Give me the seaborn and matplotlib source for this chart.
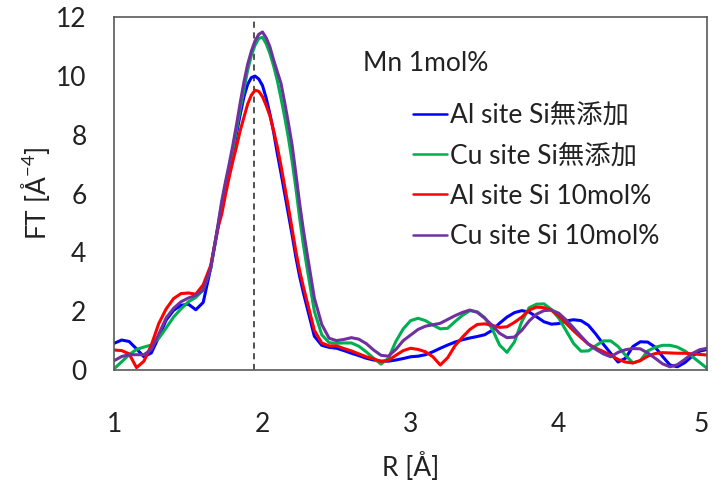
import matplotlib
matplotlib.use('Agg')
import matplotlib.pyplot as plt
import matplotlib.transforms as mtransforms
import seaborn as sns
import pandas as pd
import numpy as np

# Сетка R: шаг 0.05, в области пика 0.025
r_values = np.round(np.concatenate([
    np.arange(1.0, 1.7001, 0.05),
    np.arange(1.725, 2.3001, 0.025),
    np.arange(2.35, 5.0001, 0.05),
]), 3)

al_si_none = [
    0.91, 1.02, 0.97, 0.72, 0.45, 0.58, 1.12, 1.70, 2.03, 2.20, 2.24, 2.05, 2.30, 3.45, 4.85,
    5.55, 6.25, 6.80, 7.37, 8.05, 8.70, 9.30, 9.72, 9.95, 10.00, 9.90, 9.68,
    9.25, 8.72, 8.10, 7.37, 6.70, 6.00, 5.30, 4.60, 3.85, 3.20, 2.65, 2.15,
    1.15, 0.84, 0.77, 0.74, 0.66, 0.57, 0.49, 0.40, 0.34, 0.30,
    0.30, 0.34, 0.39, 0.45, 0.47, 0.52, 0.62, 0.74, 0.85, 0.95,
    1.03, 1.09, 1.14, 1.20, 1.35, 1.59, 1.80, 1.95, 2.02, 1.97,
    1.81, 1.64, 1.56, 1.58, 1.67, 1.71, 1.68, 1.52, 1.22, 0.88,
    0.57, 0.27, 0.40, 0.80, 0.96, 0.95, 0.78, 0.46, 0.17, 0.11,
    0.25, 0.47, 0.64, 0.70,
]
cu_si_none = [
    0.05, 0.28, 0.52, 0.70, 0.78, 0.85, 1.08, 1.43, 1.80, 2.08, 2.32, 2.47, 2.72, 3.45, 4.90,
    5.65, 6.30, 6.90, 7.50, 8.20, 8.90, 9.55, 10.20, 10.70, 11.05, 11.28, 11.32,
    11.10, 10.77, 10.35, 9.85, 9.25, 8.60, 7.90, 7.10, 6.20, 5.20, 4.30, 3.50,
    2.00, 1.20, 0.93, 0.91, 0.92, 0.92, 0.81, 0.62, 0.40, 0.20,
    0.40, 0.97, 1.40, 1.68, 1.76, 1.68, 1.53, 1.40, 1.42, 1.65,
    1.86, 2.02, 1.98, 1.78, 1.40, 0.85, 0.60, 0.95, 1.65, 2.12,
    2.24, 2.25, 2.06, 1.76, 1.33, 0.90, 0.64, 0.65, 0.83, 0.99,
    0.99, 0.80, 0.50, 0.24, 0.32, 0.65, 0.77, 0.84, 0.84, 0.78,
    0.65, 0.46, 0.26, 0.06,
]
al_si_10 = [
    0.68, 0.66, 0.55, 0.08, 0.30, 0.85, 1.58, 2.08, 2.43, 2.60, 2.62, 2.58, 2.90, 3.55, 4.85,
    5.30, 5.95, 6.55, 7.10, 7.60, 8.15, 8.60, 9.05, 9.35, 9.52, 9.48, 9.30,
    9.00, 8.65, 8.15, 7.60, 6.95, 6.25, 5.55, 4.80, 4.05, 3.40, 2.85, 2.35,
    1.35, 0.92, 0.82, 0.82, 0.73, 0.65, 0.55, 0.45, 0.38, 0.29,
    0.33, 0.50, 0.66, 0.74, 0.70, 0.62, 0.45, 0.17, 0.42, 0.83,
    1.12, 1.38, 1.55, 1.57, 1.52, 1.45, 1.47, 1.62, 1.80, 2.04,
    2.14, 2.12, 2.03, 1.84, 1.58, 1.33, 1.10, 0.88, 0.74, 0.63,
    0.50, 0.36, 0.27, 0.24, 0.32, 0.47, 0.56, 0.59, 0.58, 0.57,
    0.57, 0.55, 0.53, 0.51,
]
cu_si_10 = [
    0.32, 0.46, 0.52, 0.52, 0.52, 0.70, 1.22, 1.77, 2.10, 2.32, 2.45, 2.54, 2.72, 3.45, 4.95,
    5.75, 6.40, 7.00, 7.65, 8.35, 9.10, 9.80, 10.40, 10.85, 11.20, 11.42, 11.50,
    11.30, 11.00, 10.55, 10.15, 9.75, 9.10, 8.40, 7.65, 6.70, 5.70, 4.80, 4.00,
    2.45, 1.55, 1.08, 1.00, 1.04, 1.10, 1.05, 0.90, 0.68, 0.50,
    0.47, 0.70, 1.00, 1.19, 1.38, 1.49, 1.54, 1.59, 1.72, 1.85,
    1.96, 2.04, 1.96, 1.76, 1.52, 1.25, 1.10, 1.12, 1.35, 1.67,
    1.90, 2.02, 2.04, 1.93, 1.70, 1.43, 1.15, 0.88, 0.70, 0.55,
    0.45, 0.60, 0.69, 0.73, 0.72, 0.58, 0.40, 0.21, 0.11, 0.18,
    0.36, 0.56, 0.69, 0.74,
]

series_names = ['Al site Si無添加', 'Cu site Si無添加', 'Al site Si 10mol%', 'Cu site Si 10mol%']
series_colors = ['#0000FF', '#00B050', '#FF0000', '#7030A0']
peak_r = 1.94

sns.set_theme(style='white')
plt.rcParams['font.family'] = ['Lato', 'Noto Sans CJK JP', 'DejaVu Sans']
plt.rcParams['mathtext.fontset'] = 'custom'
plt.rcParams['mathtext.rm'] = 'Lato'

frames = []
for name, vals in zip(series_names, [al_si_none, cu_si_none, al_si_10, cu_si_10]):
    assert len(vals) == len(r_values), name
    frames.append(pd.DataFrame({'R': r_values, 'FT': vals, 'series': name}))
df = pd.concat(frames)

fig = plt.figure(figsize=(7.13, 4.84), dpi=100)
ax = fig.add_axes([114.3 / 713, 1 - 370 / 484, (707 - 114.3) / 713, (370 - 17.3) / 484])

ax.axvline(peak_r, color='#222222', lw=1.1, ls=(0, (4, 3)), zorder=1)
sns.lineplot(data=df, x='R', y='FT', hue='series', hue_order=series_names,
             palette=dict(zip(series_names, series_colors)), lw=2.2, ax=ax,
             legend=False, zorder=2)

ax.set_xlim(1, 5)
ax.set_ylim(0, 12)
ax.set_xticks([1, 2, 3, 4, 5])
ax.set_yticks([0, 2, 4, 6, 8, 10, 12])
ax.tick_params(axis='both', direction='in', length=9, width=1.1,
               color='#595959', labelsize=19, labelcolor='#222222')
ax.tick_params(axis='y', pad=20)
ax.tick_params(axis='x', pad=30)
for sp in ax.spines.values():
    sp.set_color('#595959')
    sp.set_linewidth(1.2)

# последняя подпись "5" упирается в край картинки, чуть сдвигаем влево
last_lbl = ax.xaxis.get_major_ticks()[-1].label1
last_lbl.set_transform(last_lbl.get_transform()
                       + mtransforms.ScaledTranslation(-6 / 100, 0, fig.dpi_scale_trans))

ax.set_xlabel('R [Å]', fontsize=19, color='#222222')
ax.set_ylabel(r'FT [Å$^{\mathrm{-4}}$]', fontsize=19, color='#222222')
ax.xaxis.label.set_va('center')
ax.yaxis.label.set_va('center')
ax.xaxis.set_label_coords(0.5, (370 - 466) / 352.7)
ax.yaxis.set_label_coords((35 - 114.3) / 592.7, 0.5)

ax.text((363 - 114.3) / 592.7, (370 - 63.3) / 352.7, 'Mn 1mol%', transform=ax.transAxes,
        fontsize=19, color='#222222', va='center', ha='left')

handles = [plt.Line2D([], [], color=c, lw=1.8) for c in series_colors]
leg = ax.legend(handles, series_names, loc='upper left', bbox_to_anchor=(0.504, 0.757),
                frameon=False, fontsize=19, handlelength=1.3, handletextpad=0.12,
                labelspacing=0.58, borderpad=0, borderaxespad=0)
for t in leg.get_texts():
    t.set_color('#222222')

fig.savefig('out.png', dpi=100)
